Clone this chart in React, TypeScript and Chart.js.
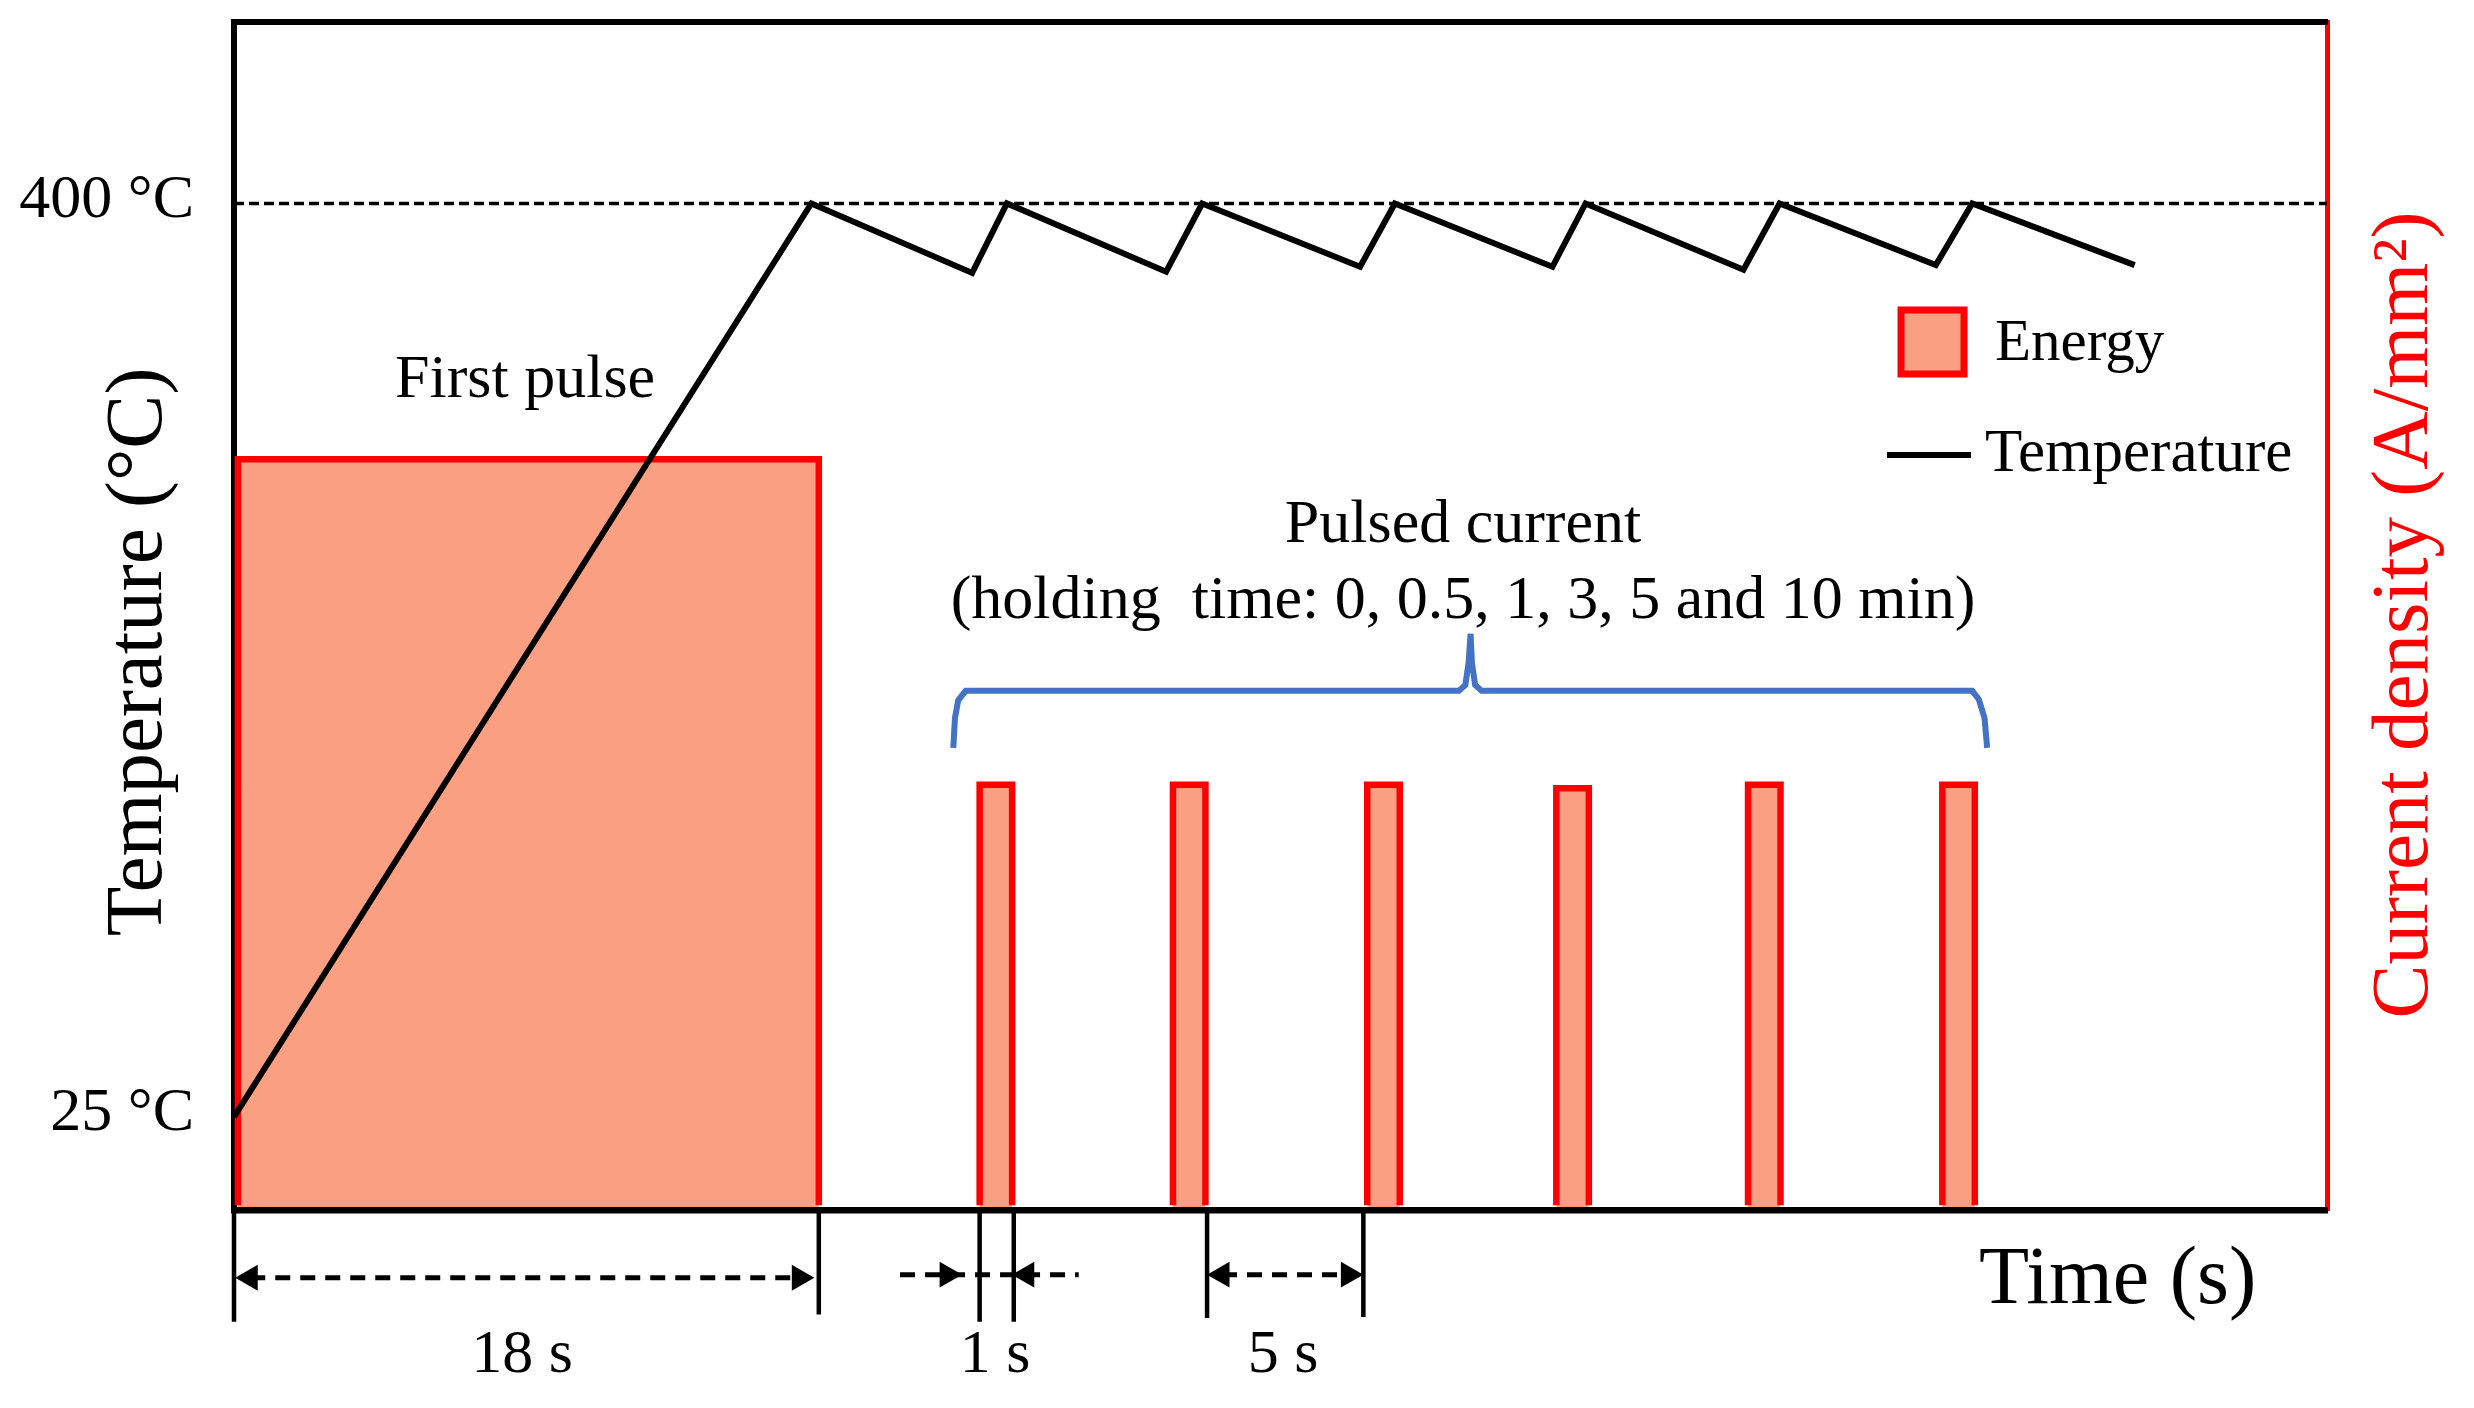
import React, { useEffect, useRef } from 'react';
import { Chart, registerables } from 'chart.js';

Chart.register(...registerables);

const FONT = '"Liberation Serif", serif';
const RED = '#ff0000';
const SALMON = '#fb9f82';

// temperature trace (s, degC)
const tempTime = [0, 17.77, 22.72, 23.79, 28.69, 29.8, 34.66, 35.73, 40.58, 41.6, 46.46, 47.57, 52.38, 53.5, 58.5];
const tempValue = [25, 400, 371.5, 400, 372, 400, 374, 400, 374, 400, 372.8, 400, 374.7, 400, 374.7];
const targetTemp = [400, 400];
const targetTime = [0, 64.42];
const tempTicks = [25, 400];

// current pulses (s, % of the right axis height)
const pulseStart = [0.12, 22.95, 28.9, 34.88, 40.7, 46.6, 52.58];
const pulseEnd = [18, 23.95, 29.9, 35.88, 41.7, 47.6, 53.58];
const pulseHeight = [63.2, 35.8, 35.8, 35.8, 35.5, 35.8, 35.8];
const pulseBase = 0.4;

// dimension lines under the axis
const guideTime = [0, 18, 22.95, 24, 29.95, 34.76];
const guideDepth = [-9.4, -8.8, -9.4, -9.4, -9.1, -9.0];
const arrowTime18 = [0.5, 17.4];
const arrowTime1 = [20.5, 21.95, 24.4, 26];
const arrowTime5 = [30.41, 34.3];

// curly brace over the small pulses
const braceTime = [22.14, 22.19, 22.29, 22.52, 37.7, 37.9, 38.0, 38.06, 38.1, 38.2, 38.4, 53.5, 53.7, 53.88, 53.96];
const braceLevel = [38.9, 41.4, 42.9, 43.7, 43.7, 44.2, 46.1, 48.5, 46.1, 44.2, 43.7, 43.7, 43.0, 41.4, 38.9];

const zip = (xs: number[], ys: number[]) => xs.map((x, i) => ({ x, y: ys[i] }));

const pulsePoints = () => {
    const pts: { x: number; y: number }[] = [];
    pulseStart.forEach((s, i) => {
        pts.push({ x: s, y: pulseBase }, { x: s, y: pulseHeight[i] }, { x: pulseEnd[i], y: pulseHeight[i] }, { x: pulseEnd[i], y: pulseBase });
        pts.push({ x: pulseEnd[i], y: NaN });
    });
    return pts;
};

const guidePoints = () => {
    const pts: { x: number; y: number }[] = [];
    guideTime.forEach((t, i) => {
        pts.push({ x: t, y: 0 }, { x: t, y: guideDepth[i] }, { x: t, y: NaN });
    });
    return pts;
};

const arrow = (label: string, xs: number[], level: number, radius: number[], rotation: number[]) => ({
    label,
    data: xs.map((x) => ({ x, y: level })),
    yAxisID: 'y2',
    borderColor: '#000',
    borderWidth: 5,
    borderDash: [15, 10],
    pointStyle: 'triangle',
    pointRadius: radius,
    pointRotation: rotation,
    pointBackgroundColor: '#000',
    pointBorderWidth: 0,
    clip: false as const,
    order: 1,
});

const notes = [
    { text: 'First pulse', x: 525, y: 381, size: 62, align: 'center' },
    { text: 'Pulsed current', x: 1463, y: 526, size: 62, align: 'center' },
    { text: '(holding  time: 0, 0.5, 1, 3, 5 and 10 min)', x: 1463, y: 602, size: 62, align: 'center' },
    { text: '18 s', x: 522, y: 1356, size: 62, align: 'center' },
    { text: '1 s', x: 995, y: 1356, size: 62, align: 'center' },
    { text: '5 s', x: 1283, y: 1356, size: 62, align: 'center' },
    { text: 'Time (s)', x: 1979, y: 1281, size: 82, align: 'left' },
];

const overlay = {
    id: 'overlay',
    afterDatasetsDraw(chart: any) {
        // the library skips points outside the chart area, so draw the arrowheads here
        chart.data.datasets.forEach((ds: any, i: number) => {
            if (ds.pointStyle !== 'triangle') return;
            chart.getDatasetMeta(i).data.forEach((pt: any) => {
                pt.draw(chart.ctx, { left: -9999, top: -9999, right: 9999, bottom: 9999 });
            });
        });
    },
    afterDraw(chart: any) {
        const { ctx } = chart;
        ctx.save();
        ctx.textBaseline = 'middle';
        ctx.fillStyle = '#000';
        notes.forEach((n) => {
            ctx.font = `${n.size}px ${FONT}`;
            ctx.textAlign = n.align;
            ctx.fillText(n.text, n.x, n.y);
        });

        // axis titles, both read bottom to top
        ctx.textAlign = 'center';
        ctx.font = `81px ${FONT}`;
        ctx.save();
        ctx.translate(140, 652);
        ctx.rotate(-Math.PI / 2);
        ctx.fillText('Temperature (°C)', 0, 0);
        ctx.restore();
        ctx.save();
        ctx.translate(2406, 615);
        ctx.rotate(-Math.PI / 2);
        ctx.fillStyle = RED;
        ctx.fillText('Current density (A/mm²)', 0, 0);
        ctx.restore();

        // legend
        ctx.textAlign = 'left';
        ctx.fillStyle = SALMON;
        ctx.fillRect(1901, 310, 63, 64);
        ctx.strokeStyle = RED;
        ctx.lineWidth = 7;
        ctx.strokeRect(1901, 310, 63, 64);
        ctx.fillStyle = '#000';
        ctx.font = `59px ${FONT}`;
        ctx.fillText('Energy', 1995, 344);
        ctx.strokeStyle = '#000';
        ctx.lineWidth = 6;
        ctx.beginPath();
        ctx.moveTo(1887, 455);
        ctx.lineTo(1971, 455);
        ctx.stroke();
        ctx.font = `61px ${FONT}`;
        ctx.fillText('Temperature', 1985, 455);
        ctx.restore();
    },
};

const App: React.FC = () => {
    const chartRef = useRef<HTMLCanvasElement>(null);

    useEffect(() => {
        if (!chartRef.current) return;
        const chart = new Chart(chartRef.current, {
            type: 'line',
            data: {
                datasets: [
                    {
                        label: 'Temperature',
                        data: zip(tempTime, tempValue),
                        yAxisID: 'y',
                        borderColor: '#000',
                        borderWidth: 6,
                        borderJoinStyle: 'miter',
                        pointRadius: 0,
                        tension: 0,
                        clip: false,
                        order: 1,
                    },
                    {
                        label: '400 °C',
                        data: zip(targetTime, targetTemp),
                        yAxisID: 'y',
                        borderColor: '#000',
                        borderWidth: 3.5,
                        borderDash: [10, 5],
                        pointRadius: 0,
                        order: 2,
                    },
                    {
                        label: 'Energy',
                        data: pulsePoints(),
                        yAxisID: 'y2',
                        borderColor: RED,
                        backgroundColor: SALMON,
                        borderWidth: 6.5,
                        borderJoinStyle: 'miter',
                        fill: 'origin',
                        pointRadius: 0,
                        spanGaps: false,
                        clip: false,
                        order: 3,
                    },
                    {
                        label: 'Guides',
                        data: guidePoints(),
                        yAxisID: 'y2',
                        borderColor: '#000',
                        borderWidth: 4.5,
                        pointRadius: 0,
                        spanGaps: false,
                        clip: false,
                        order: 1,
                    },
                    arrow('18 s', arrowTime18, -5.7, [15, 15], [-90, 90]),
                    arrow('1 s', arrowTime1, -5.44, [0, 15, 15, 0], [0, 90, -90, 0]),
                    arrow('5 s', arrowTime5, -5.44, [15, 15], [-90, 90]),
                    {
                        label: 'Brace',
                        data: zip(braceTime, braceLevel),
                        yAxisID: 'y2',
                        borderColor: '#4472c4',
                        borderWidth: 6,
                        pointRadius: 0,
                        clip: false,
                        order: 1,
                    },
                ],
            } as any,
            plugins: [overlay],
            options: {
                responsive: false,
                animation: false,
                devicePixelRatio: 1,
                layout: { padding: 0 },
                plugins: { legend: { display: false }, tooltip: { enabled: false } },
                scales: {
                    x: {
                        type: 'linear',
                        min: targetTime[0],
                        max: targetTime[1],
                        grid: { display: false },
                        border: { color: '#000', width: 6.5, z: 1 },
                        ticks: { display: false },
                        afterFit: (s: any) => { s.height = 198; },
                    },
                    x2: {
                        type: 'linear',
                        position: 'top',
                        min: targetTime[0],
                        max: targetTime[1],
                        grid: { display: false },
                        border: { color: '#000', width: 6, z: 1 },
                        ticks: { display: false },
                        afterFit: (s: any) => { s.height = 22; },
                    },
                    y: {
                        type: 'linear',
                        min: -13.2,
                        max: 474.5,
                        grid: { display: false, drawTicks: false },
                        border: { color: '#000', width: 6 },
                        afterBuildTicks: (s: any) => { s.ticks = tempTicks.map((value) => ({ value })); },
                        ticks: {
                            color: '#000',
                            padding: 40,
                            labelOffset: -3,
                            font: { family: FONT, size: 62 },
                            callback: (v: any) => `${v} °C`,
                        },
                        afterFit: (s: any) => {
                            s.width = 234;
                            s.paddingTop = 0;
                            s.paddingBottom = 0;
                        },
                    },
                    y2: {
                        type: 'linear',
                        position: 'right',
                        min: 0,
                        max: 100,
                        grid: { display: false },
                        border: { color: RED, width: 5 },
                        ticks: { display: false },
                        afterFit: (s: any) => { s.width = 147; },
                    },
                },
            } as any,
        });
        return () => chart.destroy();
    }, []);

    return (
        <div style={{ position: 'fixed', left: 0, top: 0, width: 2474, height: 1408, background: '#fff' }}>
            <canvas ref={chartRef} width={2474} height={1408} style={{ display: 'block' }}></canvas>
        </div>
    );
};

export default App;
